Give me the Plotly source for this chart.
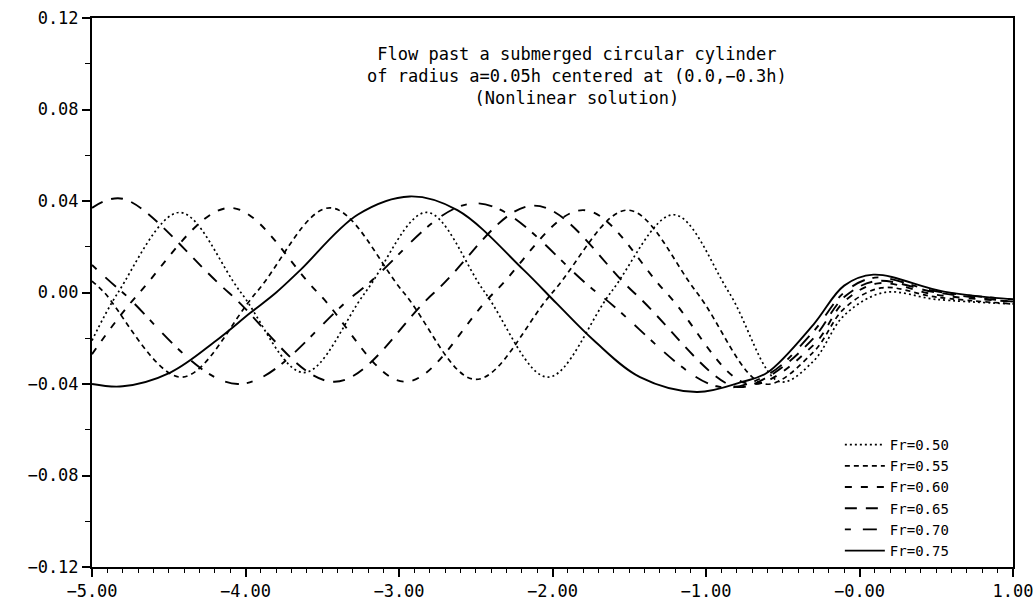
import plotly.graph_objects as go

# ---- data ----
fr_labels = ["Fr=0.50", "Fr=0.55", "Fr=0.60", "Fr=0.65", "Fr=0.70", "Fr=0.75"]

fr050_x = [-5.0, -4.83, -4.43, -4.03, -3.62, -3.22, -2.82, -2.44, -2.03, -1.62, -1.21, -0.85, -0.52, -0.30, -0.10, 0.16, 0.50, 1.00]
fr050_y = [-0.021, 0.0, 0.035, 0.0, -0.035, 0.0, 0.035, 0.0, -0.037, 0.0, 0.034, 0.0, -0.039, -0.030, -0.010, 0.000, -0.003, -0.005]

fr055_x = [-5.0, -4.92, -4.42, -3.93, -3.45, -2.97, -2.50, -2.00, -1.51, -1.06, -0.62, -0.30, -0.10, 0.14, 0.50, 1.00]
fr055_y = [0.005, 0.0, -0.037, 0.0, 0.037, 0.0, -0.038, 0.0, 0.036, 0.0, -0.040, -0.026, -0.007, 0.002, -0.002, -0.005]

fr060_x = [-5.0, -4.69, -4.10, -3.53, -2.96, -2.38, -1.80, -1.26, -0.72, -0.30, -0.10, 0.12, 0.50, 1.00]
fr060_y = [-0.027, 0.0, 0.037, 0.0, -0.039, 0.0, 0.036, 0.0, -0.040, -0.023, -0.004, 0.004, -0.001, -0.004]

fr065_x = [-5.0, -4.80, -4.11, -3.42, -2.77, -2.12, -1.47, -0.82, -0.60, -0.30, -0.10, 0.11, 0.50, 1.00]
fr065_y = [0.037, 0.041, 0.0, -0.039, 0.0, 0.038, 0.0, -0.041, -0.037, -0.020, -0.002, 0.005, 0.000, -0.004]

fr070_x = [-5.0, -4.80, -4.05, -3.27, -2.50, -1.71, -0.93, -0.60, -0.30, -0.10, 0.10, 0.50, 1.00]
fr070_y = [0.012, 0.0, -0.040, 0.0, 0.039, 0.0, -0.041, -0.036, -0.017, 0.000, 0.0065, 0.0005, -0.003]

fr075_x = [-5.0, -4.80, -4.49, -4.19, -3.97, -3.80, -3.64, -3.27, -2.93, -2.62, -2.19, -1.97, -1.73, -1.43, -1.06, -0.76, -0.60, -0.30, -0.10, 0.09, 0.55, 1.00]
fr075_y = [-0.040, -0.041, -0.035, -0.021, -0.009, 0.0, 0.010, 0.034, 0.042, 0.036, 0.010, -0.005, -0.021, -0.037, -0.0435, -0.039, -0.035, -0.014, 0.003, 0.0078, 0.0004, -0.003]

x_tick_vals = [-5, -4, -3, -2, -1, 0, 1]
x_tick_text = ["\u22125.00", "\u22124.00", "\u22123.00", "\u22122.00", "\u22121.00", "\u22120.00", "1.00"]
y_tick_vals = [-0.12, -0.08, -0.04, 0.0, 0.04, 0.08, 0.12]
y_tick_text = ["\u22120.12", "\u22120.08", "\u22120.04", "0.00", "0.04", "0.08", "0.12"]

title_lines = ["Flow past a submerged circular cylinder",
               "of radius a=0.05h centered at (0.0,\u22120.3h)",
               "(Nonlinear solution)"]

series_x = [fr050_x, fr055_x, fr060_x, fr065_x, fr070_x, fr075_x]
series_y = [fr050_y, fr055_y, fr060_y, fr065_y, fr070_y, fr075_y]
dashes = ["2px,3px", "5px,4px", "7px,9px", "12px,9px", "6px,12px,14px,8px", "solid"]
widths = [1.7, 1.7, 1.9, 1.9, 1.9, 1.9]

FONT = "DejaVu Sans Mono"

fig = go.Figure()
for name, xs, ys, d, w in zip(fr_labels, series_x, series_y, dashes, widths):
    fig.add_trace(go.Scatter(
        x=xs, y=ys, mode="lines", name=name,
        line=dict(color="black", width=w, dash=d, shape="spline", smoothing=1.0),
    ))

fig.add_annotation(
    text="<br>".join(title_lines), xref="paper", yref="paper",
    x=0.527, y=0.957, xanchor="center", yanchor="top", showarrow=False,
    align="center", font=dict(family=FONT, size=17, color="black"),
)

fig.update_layout(
    width=1033, height=607, autosize=False,
    margin=dict(l=92, r=20, t=18, b=40, autoexpand=False),
    paper_bgcolor="white", plot_bgcolor="white",
    font=dict(family=FONT, color="black", size=17),
    showlegend=True,
    legend=dict(x=0.812, y=0.0, xanchor="left", yanchor="bottom",
                bgcolor="rgba(0,0,0,0)", font=dict(family=FONT, size=14, color="black"),
                tracegroupgap=0, itemwidth=40),
)
fig.update_xaxes(
    range=[-5, 1], tickmode="array", tickvals=x_tick_vals, ticktext=x_tick_text,
    automargin=False, ticklabeloverflow="allow",
    showgrid=False, zeroline=False, showline=True, linecolor="black", linewidth=2,
    mirror=True, ticks="outside", ticklen=8, tickwidth=1.5, tickcolor="black",
    tickfont=dict(family=FONT, size=17, color="black"),
    minor=dict(tickmode="linear", tick0=-5, dtick=0.1, ticks="outside", ticklen=4,
               tickwidth=1, tickcolor="black", showgrid=False),
)
fig.update_yaxes(
    range=[-0.12, 0.12], tickmode="array", tickvals=y_tick_vals, ticktext=y_tick_text,
    automargin=False, ticklabeloverflow="allow",
    showgrid=False, zeroline=False, showline=True, linecolor="black", linewidth=2,
    mirror=True, ticks="outside", ticklen=8, tickwidth=1.5, tickcolor="black",
    tickfont=dict(family=FONT, size=17, color="black"),
    minor=dict(tickmode="linear", tick0=-0.12, dtick=0.02, ticks="outside", ticklen=5,
               tickwidth=1, tickcolor="black", showgrid=False),
)

fig.write_html("out.html")
